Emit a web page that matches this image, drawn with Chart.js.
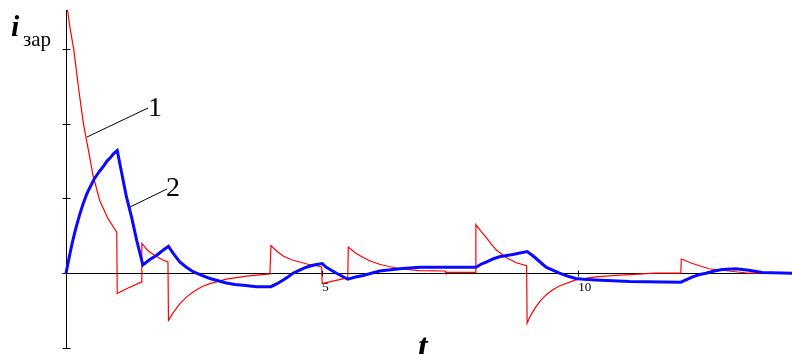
<!DOCTYPE html>
<html>
<head>
<meta charset="utf-8">
<script src="https://cdn.jsdelivr.net/npm/chart.js@4/dist/chart.umd.min.js"></script>
<style>
  html, body { margin: 0; padding: 0; background: #fff; }
  canvas { display: block; }
</style>
</head>
<body>
<canvas id="charge" width="792" height="354"></canvas>
<script>
// curve 1 (red) - time and value
const redT = [0.03, 0.08, 0.15, 0.25, 0.34, 0.45, 0.53, 0.66, 0.82, 0.99, 1.0, 1.2, 1.47, 1.48, 1.6, 1.75, 1.88, 1.99,
  2.0, 2.1, 2.22, 2.35, 2.48, 2.65, 2.81, 3.13, 3.52, 3.98, 4.0, 4.12, 4.24, 4.4, 4.56, 4.72, 4.89, 4.99,
  5.0, 5.25, 5.5, 5.51, 5.65, 5.8, 5.95, 6.12, 6.3, 6.51, 6.9, 7.4, 7.41, 7.99,
  8.0, 8.1, 8.2, 8.3, 8.4, 8.59, 8.79, 8.99, 9.0, 9.08, 9.17, 9.27, 9.37, 9.5, 9.63, 9.95,
  10.34, 10.73, 11.0, 11.5, 12.0, 12.01, 12.23, 12.55, 12.81, 13.07, 13.33, 14.17];
const redV = [3.52, 3.27, 3.0, 2.45, 2.0, 1.6, 1.3, 0.97, 0.73, 0.55, -0.27, -0.2, -0.12, 0.40, 0.30, 0.23, 0.18, 0.15,
  -0.63, -0.52, -0.41, -0.32, -0.25, -0.18, -0.14, -0.08, -0.04, -0.01, 0.37, 0.29, 0.23, 0.18, 0.15, 0.12, 0.10, 0.085,
  -0.14, -0.10, -0.06, 0.35, 0.27, 0.21, 0.16, 0.12, 0.09, 0.06, 0.035, 0.03, 0.01, 0.01,
  0.65, 0.56, 0.48, 0.39, 0.31, 0.21, 0.14, 0.10, -0.67, -0.55, -0.45, -0.36, -0.29, -0.22, -0.17, -0.09,
  -0.05, -0.03, -0.02, 0.0, 0.0, 0.19, 0.13, 0.06, 0.04, 0.02, 0.0, 0.0];

// curve 2 (blue)
const blueT = [0, 0.05, 0.08, 0.12, 0.18, 0.22, 0.27, 0.33, 0.4, 0.47, 0.55, 0.65, 0.73, 0.8, 0.86, 0.93, 1.0,
  1.09, 1.18, 1.28, 1.38, 1.5, 1.63, 1.77, 1.9, 2.0,
  2.1, 2.22, 2.35, 2.48, 2.65, 2.81, 2.97, 3.13, 3.3, 3.46, 3.72, 4.0, 4.12, 4.24, 4.33, 4.43, 4.56, 4.69, 4.84, 5.0,
  5.08, 5.28, 5.5, 5.65, 5.8, 6.12, 6.51, 6.9, 7.5,
  8.0, 8.1, 8.2, 8.33, 8.46, 8.72, 8.86, 9.0, 9.08, 9.17, 9.27, 9.37, 9.5, 9.63, 9.8, 9.95, 10.1, 10.34, 11.0,
  12.0, 12.1, 12.23, 12.35, 12.49, 12.65, 12.81, 13.07, 13.33, 13.59, 14.17];
const blueV = [0, 0.17, 0.27, 0.4, 0.57, 0.67, 0.79, 0.92, 1.05, 1.15, 1.26, 1.36, 1.43, 1.5, 1.54, 1.6, 1.64,
  1.33, 1.02, 0.75, 0.44, 0.11, 0.18, 0.24, 0.31, 0.36,
  0.26, 0.15, 0.08, 0.02, -0.03, -0.07, -0.1, -0.13, -0.15, -0.16, -0.18, -0.18, -0.14, -0.09, -0.05, 0, 0.04, 0.08, 0.11, 0.13,
  0.08, 0, -0.08, -0.05, -0.03, 0.03, 0.06, 0.08, 0.08,
  0.08, 0.12, 0.15, 0.19, 0.22, 0.25, 0.27, 0.29, 0.25, 0.2, 0.14, 0.08, 0.04, 0, -0.04, -0.07, -0.08, -0.09, -0.11,
  -0.12, -0.09, -0.05, -0.02, 0, 0.03, 0.05, 0.06, 0.04, 0.01, 0];

const xTicks = [5, 10];
const yTicks = [-1, 0, 1, 2, 3];

const toPts = (ts, vs) => ts.map((t, i) => ({ x: t, y: vs[i] }));

// hand drawn axes, ticks and captions like the original figure
const axesPlugin = {
  id: "axesPlugin",
  beforeDatasetsDraw: (chart) => {
    const ctx = chart.ctx;
    const xs = chart.scales.x;
    const ys = chart.scales.y;
    const area = chart.chartArea;
    const x0 = Math.round(xs.getPixelForValue(0)) + 0.5;
    const y0 = Math.round(ys.getPixelForValue(0)) + 0.5;
    ctx.save();
    ctx.strokeStyle = "#000";
    ctx.lineWidth = 1;
    ctx.beginPath();
    ctx.moveTo(x0, area.top);
    ctx.lineTo(x0, area.bottom);
    ctx.moveTo(x0 - 4, y0);
    ctx.lineTo(area.right, y0);
    yTicks.forEach((v) => {
      const py = Math.round(ys.getPixelForValue(v)) + 0.5;
      ctx.moveTo(x0 - 4, py);
      ctx.lineTo(x0 + 4, py);
    });
    xTicks.forEach((v) => {
      const px = Math.round(xs.getPixelForValue(v)) + 0.5;
      ctx.moveTo(px, y0 - 3);
      ctx.lineTo(px, y0 + 3);
    });
    ctx.stroke();

    ctx.fillStyle = "#000";
    ctx.font = "13px 'Liberation Serif'";
    ctx.textAlign = "left";
    ctx.textBaseline = "top";
    xTicks.forEach((v) => {
      ctx.fillText(String(v), xs.getPixelForValue(v), y0 + 8);
    });

    // curve numbers with leader lines
    ctx.beginPath();
    ctx.moveTo(87, 137);
    ctx.lineTo(148, 108);
    ctx.moveTo(130, 207);
    ctx.lineTo(167, 189);
    ctx.stroke();
    ctx.textBaseline = "alphabetic";
    ctx.font = "28px 'Liberation Serif'";
    ctx.fillText("1", 148, 116);
    ctx.fillText("2", 166, 196);

    // axis captions
    ctx.font = "italic bold 30px 'Liberation Serif'";
    ctx.fillText("i", 11, 36);
    ctx.font = "21px 'Liberation Serif'";
    ctx.fillText("зар", 23, 46);
    ctx.font = "italic bold 34px 'Liberation Serif'";
    ctx.fillText("t", 418, 357);
    ctx.restore();
  },
};

const ctx = document.getElementById("charge").getContext("2d");
const chargeChart = new Chart(ctx, {
  type: "scatter",
  data: {
    datasets: [
      {
        label: "2",
        data: toPts(blueT, blueV),
        showLine: true,
        borderColor: "#0a0aff",
        borderWidth: 3,
        pointRadius: 0,
        tension: 0,
        clip: false,
      },
      {
        label: "1",
        data: toPts(redT, redV),
        showLine: true,
        borderColor: "#ff0000",
        borderWidth: 1.2,
        pointRadius: 0,
        tension: 0,
        clip: false,
      },
    ],
  },
  plugins: [axesPlugin],
  options: {
    responsive: false,
    animation: false,
    devicePixelRatio: 1,
    layout: { padding: { left: 66, right: 0, top: 10, bottom: 6 } },
    plugins: {
      legend: { display: false },
      tooltip: { enabled: false },
    },
    scales: {
      x: { type: "linear", min: 0, max: 14.17, display: false },
      y: { type: "linear", min: -1, max: 3.52, display: false },
    },
  },
});
</script>
</body>
</html>
